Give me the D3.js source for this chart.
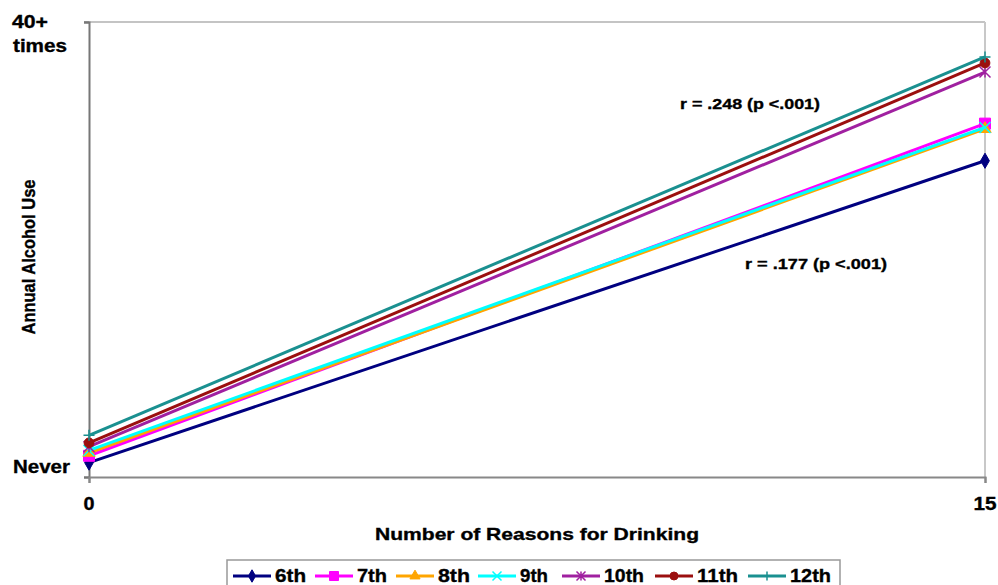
<!DOCTYPE html>
<html><head><meta charset="utf-8">
<script src="https://cdn.jsdelivr.net/npm/d3@7"></script>
<style>
body{margin:0;background:#fff}
svg{display:block}
text{font-family:"Liberation Sans",Arial,sans-serif;font-weight:bold;fill:#000;stroke:#000;stroke-width:0.35px}
</style>
</head><body>
<svg id="chart" width="998" height="585"></svg>
<script>
// ---- data ----
const grades = ["6th", "7th", "8th", "9th", "10th", "11th", "12th"];
const reasons = [0, 15];
const useAtZero = [1.19, 1.28, 1.32, 1.35, 1.40, 1.45, 1.55];
const useAtFifteen = [5.17, 5.66, 5.59, 5.61, 6.34, 6.46, 6.54];
const yTickValues = [1, 7];
const yTickLabels = [["Never"], ["40+", "times"]];
const xTickValues = [0, 15];
const annotations = ["r = .248 (p <.001)", "r = .177 (p <.001)"];

// ---- styles ----
const colors = ["#000080", "#ff00ff", "#ffa500", "#00ffff", "#a020a0", "#9b0f0f", "#1a9090"];
const markers = ["diamond", "square", "triangle", "x", "asterisk", "circle", "plus"];

const svg = d3.select("#chart");
const x = d3.scaleLinear().domain([0, 15]).range([89, 985]);
const y = d3.scaleLinear().domain([1, 7]).range([477, 22]);

const series = grades.map((g, i) => ({
  name: g, color: colors[i], marker: markers[i],
  points: [[reasons[0], useAtZero[i]], [reasons[1], useAtFifteen[i]]]
}));

// frame lines (top & right)
svg.append("line").attr("x1", 84).attr("x2", x(15)).attr("y1", y(7)).attr("y2", y(7))
  .attr("stroke", "#c4c4c4").attr("stroke-width", 2);
svg.append("line").attr("x1", x(15)).attr("x2", x(15)).attr("y1", y(7)).attr("y2", y(1))
  .attr("stroke", "#c8c8c8").attr("stroke-width", 2);

// axes
const yAxis = d3.axisLeft(y).tickValues(yTickValues).tickSize(5).tickFormat("");
const gy = svg.append("g").attr("transform", `translate(${x(0)},0)`).call(yAxis);
gy.select(".domain").attr("stroke", "#777").attr("stroke-width", 2);
gy.selectAll(".tick line").attr("stroke", "#777").attr("stroke-width", 2);
const xAxis = d3.axisBottom(x).tickValues(xTickValues).tickSize(6).tickFormat("");
const gx = svg.append("g").attr("transform", `translate(0,${y(1)})`).call(xAxis);
gx.select(".domain").attr("stroke", "#888").attr("stroke-width", 2);
gx.selectAll(".tick line").attr("stroke", "#888").attr("stroke-width", 2);

function txt(str, px, py, size, width, anchor, rot) {
  const t = svg.append("text").text(str).attr("font-size", size)
    .attr("text-anchor", anchor || "start");
  if (rot) {
    t.attr("transform", `translate(${px},${py}) rotate(${rot}) scale(1,1.12)`);
  } else {
    t.attr("x", px).attr("y", py);
  }
  if (width) t.attr("textLength", width).attr("lengthAdjust", "spacingAndGlyphs");
  return t;
}

// y tick labels
txt(yTickLabels[0][0], 13, y(yTickValues[0]) - 4, 18, 57);
txt(yTickLabels[1][0], 12, y(yTickValues[1]) + 6, 18, 36);
txt(yTickLabels[1][1], 13, y(yTickValues[1]) + 30, 18, 54);
// x tick labels
txt(String(xTickValues[0]), x(xTickValues[0]), 510, 18, 11, "middle");
txt(String(xTickValues[1]), x(xTickValues[1]), 510, 18, 23, "middle");

// axis titles
txt("Number of Reasons for Drinking", 537, 540, 17, 324, "middle");
txt("Annual Alcohol Use", 35, 257, 17, 155, "middle", -90);

// annotations
txt(annotations[0], 680, 109, 15, 140);
txt(annotations[1], 745, 269, 15, 142);

// marker drawing
function drawMarker(g, type, cx, cy, s, color) {
  const sym = {diamond: d3.symbolDiamond, square: d3.symbolSquare, triangle: d3.symbolTriangle, circle: d3.symbolCircle};
  if (sym[type]) {
    const area = {diamond: s * s * 0.55, square: s * s, triangle: s * s * 0.55, circle: s * s * 0.62}[type];
    g.append("path").attr("d", d3.symbol().type(sym[type]).size(area)())
      .attr("transform", `translate(${cx},${cy})`).attr("fill", color).attr("stroke", color).attr("stroke-width", 1);
  } else {
    const h = s / 2;
    let d = "";
    if (type === "x" || type === "asterisk") d += `M${-h},${-h}L${h},${h}M${-h},${h}L${h},${-h}`;
    if (type === "asterisk" || type === "plus") d += `M0,${-h}L0,${h}`;
    if (type === "plus") d += `M${-h},0L${h},0`;
    g.append("path").attr("d", d).attr("transform", `translate(${cx},${cy})`)
      .attr("fill", "none").attr("stroke", color).attr("stroke-width", 1.5);
  }
}

// series lines and markers
const line = d3.line().x(d => x(d[0])).y(d => y(d[1]));
series.forEach(s => {
  const g = svg.append("g");
  g.append("path").datum(s.points).attr("d", line).attr("fill", "none")
    .attr("stroke", s.color).attr("stroke-width", 3);
  s.points.forEach(p => drawMarker(g, s.marker, x(p[0]), y(p[1]), 11, s.color));
});

// legend
svg.append("rect").attr("x", 227).attr("y", 560).attr("width", 613).attr("height", 40)
  .attr("fill", "#fff").attr("stroke", "#999").attr("stroke-width", 1.5);
const legendLineStart = [233, 315, 396, 478, 562, 655, 748];
const legendTextWidths = [31, 30, 32, 28, 40, 41, 41];
series.forEach((s, i) => {
  const g = svg.append("g");
  const x0 = legendLineStart[i];
  g.append("line").attr("x1", x0).attr("x2", x0 + 38).attr("y1", 576).attr("y2", 576)
    .attr("stroke", s.color).attr("stroke-width", 3);
  drawMarker(g, s.marker, x0 + 19, 576, 9, s.color);
  txt(s.name, x0 + 42, 582, 18, legendTextWidths[i]);
});
</script>
</body></html>
